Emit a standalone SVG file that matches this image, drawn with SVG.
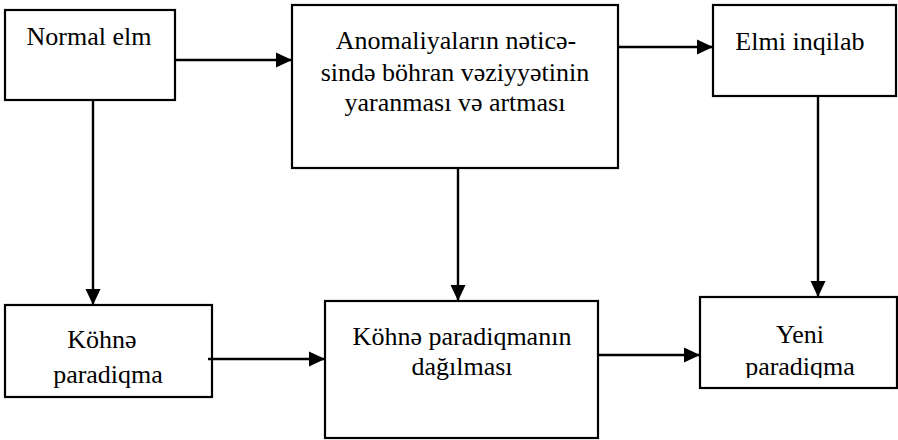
<svg xmlns="http://www.w3.org/2000/svg" width="898" height="440" viewBox="0 0 898 440">
<style>
.box{fill:#fff;stroke:#000;stroke-width:2.2}
.c{stroke:#000;stroke-width:2.4;fill:none;marker-end:url(#ah)}
text{font-family:Liberation Serif,Tinos,Times New Roman,Times,serif;font-size:26px;fill:#000;text-anchor:middle}
</style>
<defs>
<marker id="ah" markerUnits="userSpaceOnUse" markerWidth="16" markerHeight="16" refX="16" refY="8" orient="auto">
<path d="M0,0.5 L16,8 L0,15.5 z" fill="#000"/>
</marker>
<clipPath id="clipK"><rect x="5" y="305" width="207" height="87"/></clipPath>
<clipPath id="clipY"><rect x="700" y="297" width="197" height="81"/></clipPath>
</defs>
<rect width="898" height="440" fill="#fff"/>
<g id="normal-elm">
<rect class="box" x="5" y="10" width="170" height="90"/>
<text x="89" y="45" font-family="Liberation Serif">Normal elm</text>
</g>
<g id="anomaliyalar">
<rect class="box" x="292" y="5" width="326" height="163"/>
<text x="456" y="49" font-family="Liberation Serif">Anomaliyaların nəticə-</text>
<text x="455" y="81" font-family="Liberation Serif">sində böhran vəziyyətinin</text>
<text x="455" y="111" font-family="Liberation Serif">yaranması və artması</text>
</g>
<g id="elmi-inqilab">
<rect class="box" x="713" y="5" width="183" height="91"/>
<text x="800" y="50" font-family="Liberation Serif">Elmi inqilab</text>
</g>
<g id="kohne-paradiqma">
<rect class="box" x="5" y="305" width="207" height="92"/>
<g clip-path="url(#clipK)">
<text x="102" y="348" font-family="Liberation Serif">Köhnə</text>
<text x="108" y="383" font-family="Liberation Serif">paradiqma</text>
</g>
</g>
<g id="kohne-paradiqmanin-dagilmasi">
<rect class="box" x="325" y="301" width="273" height="137"/>
<text x="462" y="345" font-family="Liberation Serif">Köhnə  paradiqmanın</text>
<text x="462" y="375" font-family="Liberation Serif">dağılması</text>
</g>
<g id="yeni-paradiqma">
<rect class="box" x="700" y="297" width="197" height="91"/>
<g clip-path="url(#clipY)">
<text x="800" y="343" font-family="Liberation Serif">Yeni</text>
<text x="800" y="375" font-family="Liberation Serif">paradiqma</text>
</g>
</g>
<g id="connectors">
<line class="c" x1="175" y1="60" x2="292" y2="60"/>
<line class="c" x1="618" y1="47" x2="713" y2="47"/>
<line class="c" x1="93" y1="100" x2="93" y2="305"/>
<line class="c" x1="458" y1="168" x2="458" y2="301"/>
<line class="c" x1="818" y1="96" x2="818" y2="297"/>
<line class="c" x1="208" y1="359" x2="325" y2="359"/>
<line class="c" x1="598" y1="355" x2="700" y2="355"/>
</g>
</svg>
